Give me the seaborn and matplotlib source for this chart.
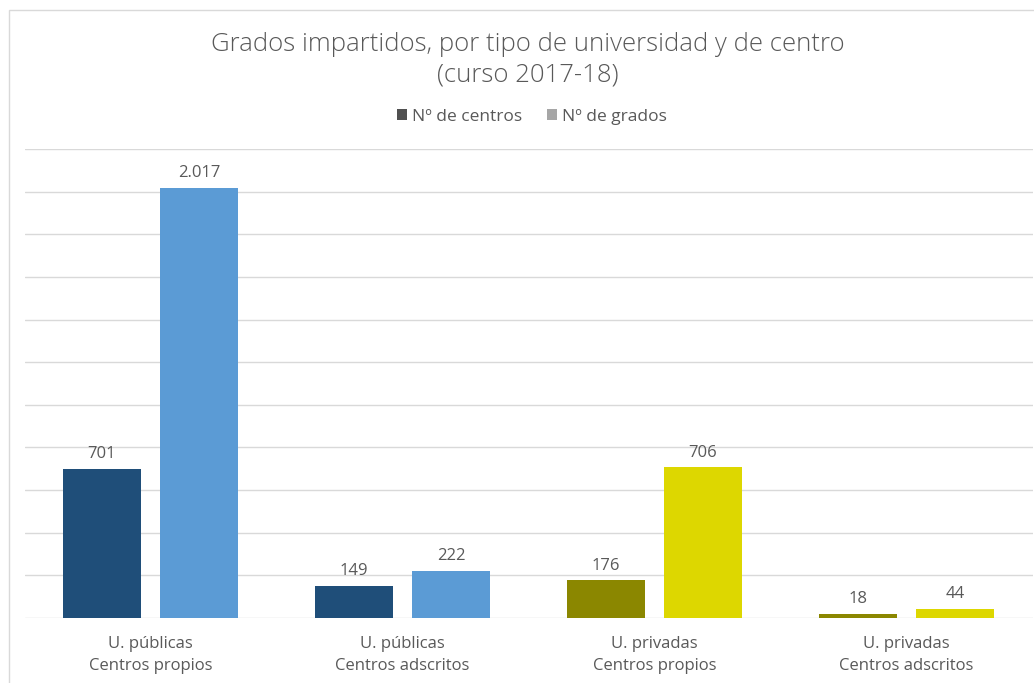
import numpy as np
import pandas as pd
import matplotlib
matplotlib.use("Agg")
import matplotlib.pyplot as plt
import seaborn as sns
from matplotlib.patches import Patch, Rectangle


# ──────────────────────────────────────────────
# Data (curso 2017-18)
# ──────────────────────────────────────────────

CATEGORIES = [
    "U. públicas\nCentros propios",
    "U. públicas\nCentros adscritos",
    "U. privadas\nCentros propios",
    "U. privadas\nCentros adscritos",
]
SERIES = ["Nº de centros", "Nº de grados"]
N_CENTROS = [701, 149, 176, 18]
N_GRADOS = [2017, 222, 706, 44]

# bar colours per category (centros, grados)
COLORS_CENTROS = ["#1F4E79", "#1F4E79", "#8B8700", "#8B8700"]
COLORS_GRADOS = ["#5B9BD5", "#5B9BD5", "#DDD700", "#DDD700"]
LEGEND_COLORS = ["#505050", "#A6A6A6"]

TITLE = "Grados impartidos, por tipo de universidad y de centro\n(curso 2017-18)"
TEXT_COLOR = "#595959"
GRID_COLOR = "#D9D9D9"


def build_frame():
    rows = []
    for cat, c, g in zip(CATEGORIES, N_CENTROS, N_GRADOS):
        rows.append({"categoria": cat, "serie": SERIES[0], "valor": c})
        rows.append({"categoria": cat, "serie": SERIES[1], "valor": g})
    return pd.DataFrame(rows)


def fmt_es(v):
    return f"{int(v):,}".replace(",", ".")


if __name__ == "__main__":
    sns.set_theme(style="white")
    plt.rcParams["font.family"] = ["Open Sans", "DejaVu Sans"]

    df = build_frame()

    W, H = 1034, 683
    fig = plt.figure(figsize=(W / 100, H / 100), dpi=100)
    ax = fig.add_axes([24.5 / W, 65 / H, 1008 / W, 469 / H])

    sns.barplot(
        data=df, x="categoria", y="valor", hue="serie",
        order=CATEGORIES, hue_order=SERIES,
        width=0.77, gap=0.195, legend=False, ax=ax,
        err_kws={"linewidth": 0},
    )

    # recolour bars per category and add data labels
    for container, colors in zip(ax.containers, [COLORS_CENTROS, COLORS_GRADOS]):
        for bar, col in zip(container, colors):
            bar.set_facecolor(col)
            bar.set_edgecolor("none")
            bar.set_zorder(3)
        ax.bar_label(container, labels=[fmt_es(b.get_height()) for b in container],
                     padding=5, fontsize=12, color=TEXT_COLOR)

    ax.set_ylim(0, 2200)
    ax.set_xlim(-0.5, 3.5)
    ax.set_yticks(np.arange(0, 2201, 200))
    ax.set_yticklabels([])
    ax.yaxis.grid(True, color=GRID_COLOR, linewidth=1)
    ax.set_axisbelow(True)
    for side in ["top", "right", "left", "bottom"]:
        ax.spines[side].set_visible(False)
    ax.tick_params(axis="both", length=0)
    ax.tick_params(axis="x", pad=13, labelsize=12, labelcolor=TEXT_COLOR)
    for lbl in ax.get_xticklabels():
        lbl.set_linespacing(1.5)
    ax.set_xlabel("")
    ax.set_ylabel("")

    # title + legend
    fig.text(528 / W, 1 - 60 / H, TITLE, ha="center", va="center",
             fontsize=18.5, color=TEXT_COLOR, linespacing=1.3, fontweight="light")
    handles = [Patch(facecolor=c, edgecolor="none") for c in LEGEND_COLORS]
    fig.legend(handles, SERIES, loc="center", bbox_to_anchor=(532 / W, 1 - 117 / H),
               ncol=2, frameon=False, fontsize=12.5, labelcolor=TEXT_COLOR,
               handlelength=0.6, handleheight=0.6, handletextpad=0.3,
               columnspacing=1.4)

    # chart border
    fig.patches.append(Rectangle((9 / W, -0.01), 1.1, 1 - 10 / H + 0.01,
                                 transform=fig.transFigure, fill=False,
                                 edgecolor=GRID_COLOR, linewidth=1))

    plt.savefig("out.png", dpi=100)
    plt.close()
